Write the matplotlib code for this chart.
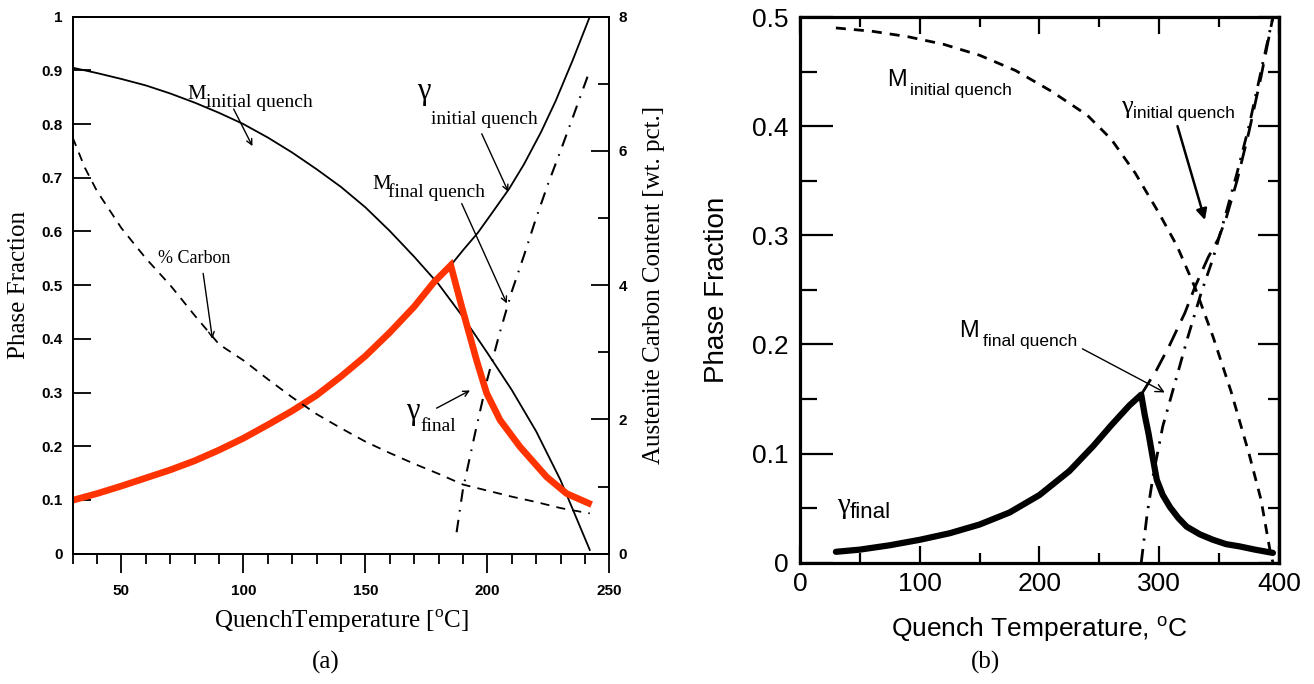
import matplotlib
matplotlib.use('Agg')
import matplotlib.pyplot as plt
from matplotlib.ticker import MultipleLocator

# ---- panel (a) data ----
temp_m_init_a = [30, 40, 50, 60, 70, 80, 90, 100, 110, 120, 130, 140, 150, 160, 170, 180, 190, 200, 210, 220, 230, 242]
m_init_a = [0.905, 0.895, 0.884, 0.872, 0.857, 0.84, 0.821, 0.80, 0.775, 0.747, 0.716, 0.683, 0.645, 0.601, 0.553, 0.502, 0.441, 0.374, 0.305, 0.228, 0.137, 0.007]

temp_g_init_a = [185, 190, 196, 202, 209, 215, 222, 228, 235, 242]
g_init_a = [0.537, 0.565, 0.597, 0.635, 0.68, 0.725, 0.785, 0.843, 0.919, 1.0]

temp_g_final_a = [30, 40, 50, 60, 70, 80, 90, 100, 110, 120, 130, 140, 150, 160, 170, 178, 185,
                  189.5, 195.6, 199.7, 205.2, 213.4, 224.3, 232.5, 241.5]
g_final_a = [0.0995, 0.112, 0.126, 0.141, 0.156, 0.173, 0.193, 0.215, 0.24, 0.266, 0.295, 0.33, 0.368, 0.412, 0.46, 0.505, 0.537,
             0.46, 0.36, 0.299, 0.249, 0.199, 0.143, 0.112, 0.094]

temp_carbon_a = [30, 35, 40, 50, 60, 70, 80, 90, 100, 110, 120, 130, 140, 150, 160, 170, 180, 190, 200, 210, 220, 230, 242]
carbon_a = [6.2, 5.75, 5.4, 4.85, 4.4, 4.0, 3.55, 3.12, 2.88, 2.6, 2.33, 2.08, 1.87, 1.67, 1.5, 1.34, 1.19, 1.03, 0.94, 0.85, 0.77, 0.68, 0.60]

temp_m_final_a = [187.4, 190, 195, 200, 205, 210, 215, 220, 225, 230, 235, 242]
m_final_a = [0.04, 0.12, 0.225, 0.325, 0.41, 0.488, 0.555, 0.625, 0.69, 0.75, 0.812, 0.90]

frac_ticks_a = [0, 0.1, 0.2, 0.3, 0.4, 0.5, 0.6, 0.7, 0.8, 0.9, 1]
frac_labels_a = ['0', '0.1', '0.2', '0.3', '0.4', '0.5', '0.6', '0.7', '0.8', '0.9', '1']
temp_ticks_a = [50, 100, 150, 200, 250]
carbon_ticks_a = [0, 2, 4, 6, 8]

# ---- panel (b) data ----
temp_m_init_b = [30, 60, 90, 120, 150, 180, 210, 240, 260, 280, 300, 315, 330, 345, 360, 375, 385, 392.5, 395]
m_init_b = [0.49, 0.487, 0.482, 0.475, 0.465, 0.451, 0.432, 0.41, 0.388, 0.357, 0.32, 0.29, 0.252, 0.207, 0.157, 0.10, 0.058, 0.0117, 0.0]

temp_g_final_b = [30, 50, 75, 100, 125, 150, 175, 200, 225, 245, 260, 275, 285,
                  288, 291, 294.5, 298, 303, 309, 316, 323, 334, 345, 356, 367, 380, 395]
g_final_b = [0.01, 0.012, 0.016, 0.021, 0.027, 0.035, 0.046, 0.062, 0.084, 0.107, 0.126, 0.144, 0.154,
             0.135, 0.119, 0.097, 0.076, 0.062, 0.051, 0.041, 0.033, 0.026, 0.021, 0.017, 0.015, 0.012, 0.009]

temp_g_init_b = [285, 298, 309, 321.5, 330, 341, 349.5, 356, 365, 375, 385, 395]
g_init_b = [0.154, 0.177, 0.2, 0.229, 0.253, 0.28, 0.297, 0.316, 0.35, 0.395, 0.445, 0.5]

temp_m_final_b = [285, 290, 295, 303, 313, 324, 335, 345, 355, 365, 375, 385, 395]
m_final_b = [0.0, 0.045, 0.08, 0.125, 0.164, 0.207, 0.247, 0.279, 0.317, 0.357, 0.40, 0.45, 0.5]

frac_ticks_b = [0, 0.1, 0.2, 0.3, 0.4, 0.5]
frac_labels_b = ['0', '0.1', '0.2', '0.3', '0.4', '0.5']
temp_ticks_b = [0, 100, 200, 300, 400]

SERIF = 'Liberation Serif'
SANS = 'Liberation Sans'
RED = '#ff3300'


def create_panel_a(fig):
    ax = fig.add_axes([0.0553, 0.1905, 0.4084, 0.7851])
    ax2 = ax.twinx()

    ax.plot(temp_m_init_a, m_init_a, color='black', lw=1.3)
    ax.plot(temp_g_init_a, g_init_a, color='black', lw=1.3)
    ax.plot(temp_m_final_a, m_final_a, color='black', lw=1.5, dashes=(6, 4, 0.8, 4))
    ax.plot(temp_g_final_a, g_final_a, color=RED, lw=4.8, solid_joinstyle='miter')
    ax2.plot(temp_carbon_a, carbon_a, color='black', lw=1.3, dashes=(5, 4))

    ax.set_xlim(30, 250)
    ax.set_ylim(0, 1)
    ax2.set_ylim(0, 8)

    ax.set_xticks(temp_ticks_a, [str(t) for t in temp_ticks_a])
    ax.xaxis.set_minor_locator(MultipleLocator(10))
    ax.set_yticks(frac_ticks_a, frac_labels_a)
    ax2.set_yticks(carbon_ticks_a, [str(t) for t in carbon_ticks_a])
    ax2.yaxis.set_minor_locator(MultipleLocator(1))

    ax.tick_params(axis='x', which='major', direction='out', length=13.5, width=1.3, pad=8)
    ax.tick_params(axis='x', which='minor', direction='out', length=7, width=1.3)
    ax.tick_params(axis='y', which='major', direction='in', length=13, width=1.3, pad=7)
    ax2.tick_params(axis='y', which='major', direction='in', length=13, width=1.3, pad=6.5)
    ax2.tick_params(axis='y', which='minor', direction='in', length=8, width=1.3)
    for a in (ax, ax2):
        for lab in a.get_xticklabels() + a.get_yticklabels():
            lab.set_fontfamily(SANS)
            lab.set_fontweight('bold')
            lab.set_fontsize(11)
        for s in a.spines.values():
            s.set_linewidth(1.3)

    ax.set_xlabel('QuenchTemperature [$^{\\mathregular{o}}$C]', family=SERIF, fontsize=18)
    ax.xaxis.set_label_coords(0.5, -0.1)
    ax.set_ylabel('Phase Fraction', family=SERIF, fontsize=18)
    ax.yaxis.set_label_coords(-0.08, 0.5)
    ax2.set_ylabel('Austenite Carbon Content [wt. pct.]', family=SERIF, fontsize=18)
    ax2.yaxis.set_label_coords(1.063, 0.5)

    # labels with subscripts (same size as in the original figure)
    ax.text(77, 0.855, 'M', family=SERIF, fontsize=15, va='center')
    ax.text(84.7, 0.841, 'initial quench', family=SERIF, fontsize=14, va='center')
    ax.text(171.3, 0.86, '\u03b3', family=SERIF, fontsize=22, va='center')
    ax.text(176.8, 0.808, 'initial quench', family=SERIF, fontsize=14, va='center')
    ax.text(153, 0.687, 'M', family=SERIF, fontsize=15, va='center')
    ax.text(159.4, 0.674, 'final quench', family=SERIF, fontsize=14, va='center')
    ax.text(64.9, 0.55, '% Carbon', family=SERIF, fontsize=13, va='center')
    ax.text(166.7, 0.264, '\u03b3', family=SERIF, fontsize=22, va='center')
    ax.text(172.4, 0.236, 'final', family=SERIF, fontsize=14, va='center')

    arrow = dict(arrowstyle='->', color='black', lw=1.0, shrinkA=0, shrinkB=0)
    ax.annotate('', xy=(103.7, 0.759), xytext=(96, 0.828), arrowprops=arrow)
    ax.annotate('', xy=(208.6, 0.674), xytext=(197.7, 0.782), arrowprops=arrow)
    ax.annotate('', xy=(208, 0.466), xytext=(189.5, 0.652), arrowprops=arrow)
    ax.annotate('', xy=(87.3, 0.40), xytext=(83.5, 0.522), arrowprops=arrow)
    ax.annotate('', xy=(192.9, 0.304), xytext=(179.2, 0.271), arrowprops=arrow)


def create_panel_b(fig):
    ax = fig.add_axes([0.6088, 0.1773, 0.3645, 0.7978])

    ax.plot(temp_m_init_b, m_init_b, color='black', lw=2, dashes=(3.6, 2.9))
    ax.plot(temp_g_init_b, g_init_b, color='black', lw=2, dashes=(6.5, 3.6))
    ax.plot(temp_m_final_b, m_final_b, color='black', lw=2, dashes=(5, 3, 0.8, 3))
    ax.plot(temp_g_final_b, g_final_b, color='black', lw=4.5, solid_capstyle='round')

    ax.set_xlim(0, 400)
    ax.set_ylim(0, 0.5)
    ax.set_xticks(temp_ticks_b, [str(t) for t in temp_ticks_b])
    ax.xaxis.set_minor_locator(MultipleLocator(50))
    ax.set_yticks(frac_ticks_b, frac_labels_b)
    ax.yaxis.set_minor_locator(MultipleLocator(0.05))

    ax.tick_params(which='both', direction='in', top=True, width=1.6)
    ax.tick_params(axis='y', which='major', length=24, pad=8)
    ax.tick_params(axis='y', which='minor', length=12)
    ax.tick_params(axis='x', which='major', length=12, pad=7)
    ax.tick_params(axis='x', which='minor', length=7)
    for lab in ax.get_xticklabels() + ax.get_yticklabels():
        lab.set_fontfamily(SANS)
        lab.set_fontsize(19)
    for s in ax.spines.values():
        s.set_linewidth(2.3)

    # right side ticks are shorter than the left ones
    axr = ax.secondary_yaxis('right')
    axr.set_yticks(frac_ticks_b, ['' for t in frac_ticks_b])
    axr.yaxis.set_minor_locator(MultipleLocator(0.05))
    axr.tick_params(which='both', direction='in', width=1.6)
    axr.tick_params(which='major', length=15)
    axr.tick_params(which='minor', length=8)
    axr.spines['right'].set_linewidth(2.3)

    ax.set_xlabel('Quench Temperature, $^{\\mathregular{o}}$C', family=SANS, fontsize=19)
    ax.xaxis.set_label_coords(0.5, -0.094)
    ax.set_ylabel('Phase Fraction', family=SANS, fontsize=20)
    ax.yaxis.set_label_coords(-0.146, 0.5)

    ax.text(72.7, 0.442, 'M', family=SANS, fontsize=17, va='center')
    ax.text(91.8, 0.433, 'initial quench', family=SANS, fontsize=12.5, va='center')
    ax.text(268.3, 0.418, '\u03b3', family=SERIF, fontsize=19, va='center')
    ax.text(278.2, 0.412, 'initial quench', family=SANS, fontsize=12.5, va='center')
    ax.text(132.7, 0.212, 'M', family=SANS, fontsize=17, va='center')
    ax.text(152.9, 0.203, 'final quench', family=SANS, fontsize=12.5, va='center')
    ax.text(31.1, 0.052, '\u03b3', family=SERIF, fontsize=21, va='center')
    ax.text(41.7, 0.046, 'final', family=SANS, fontsize=16, va='center')

    ax.annotate('', xy=(338.2, 0.314), xytext=(315.3, 0.4),
                arrowprops=dict(arrowstyle='-|>', color='black', lw=1.8, shrinkA=0, shrinkB=0,
                                mutation_scale=16))
    ax.annotate('', xy=(304.7, 0.156), xytext=(235.9, 0.196),
                arrowprops=dict(arrowstyle='->', color='black', lw=1.0, shrinkA=0, shrinkB=0,
                                mutation_scale=14))


def main():
    fig = plt.figure(figsize=(13.14, 6.84), dpi=100)
    create_panel_a(fig)
    create_panel_b(fig)
    fig.text(0.248, 0.032, '(a)', family=SERIF, fontsize=18, ha='center', va='center')
    fig.text(0.75, 0.032, '(b)', family=SERIF, fontsize=18, ha='center', va='center')
    fig.savefig('out.png', dpi=100)


if __name__ == '__main__':
    main()
